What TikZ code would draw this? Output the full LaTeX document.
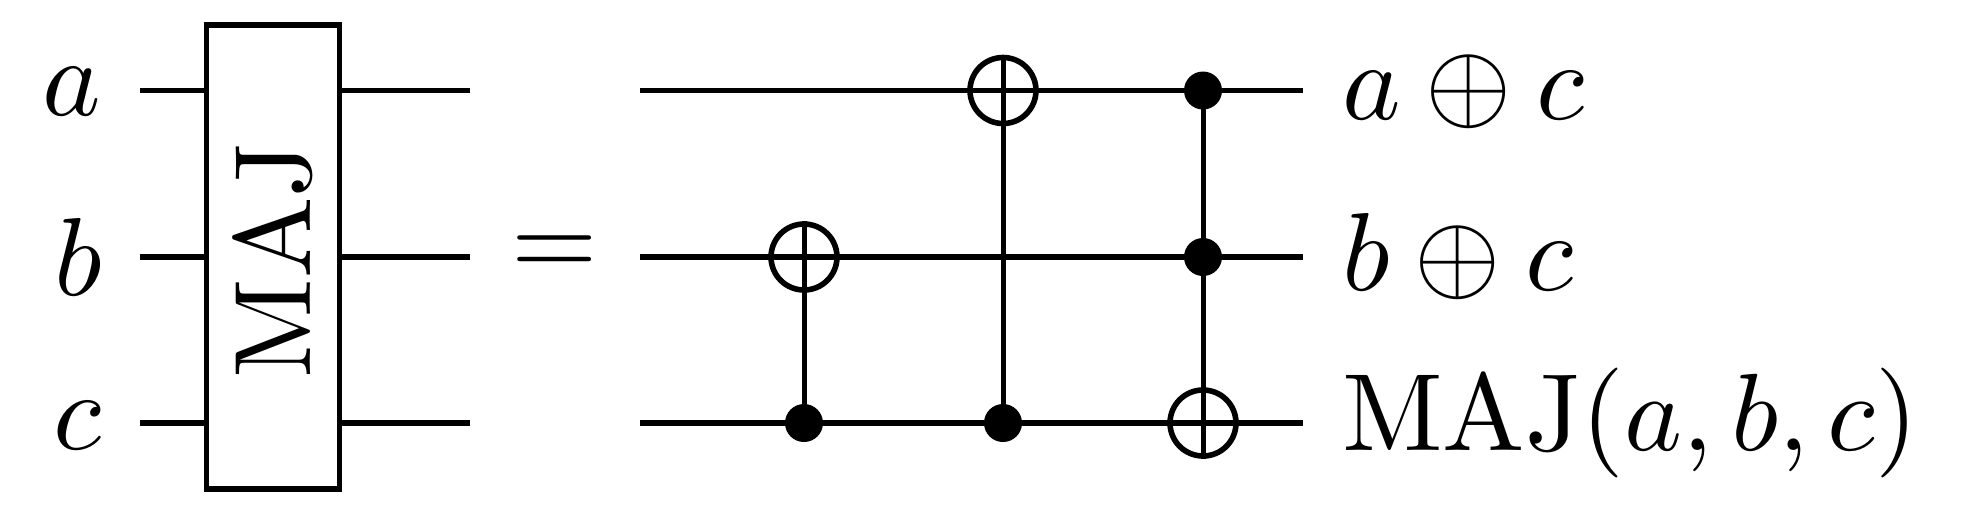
\documentclass[tikz,border=0pt]{standalone}
\usepackage{amsmath}
\usepackage{amssymb}
\tikzset{x=0.5pt,y=-0.5pt,
 wire/.style={line width=2.7pt},
 vwire/.style={line width=2.5pt},
 ctrl/.style={circle,fill=black,inner sep=0pt,minimum size=19pt},
 targ/.style={circle,draw=black,line width=2.8pt,fill=none,inner sep=0pt,minimum size=33pt},
 lab/.style={inner sep=0pt,scale=5.55},
 box/.style={draw=black,line width=2.7pt,fill=white,inner sep=0pt}}
\begin{document}
\begin{tikzpicture}
\useasboundingbox (0,0) rectangle (1964,521);
\coordinate (w1l) at (140,90.5); \coordinate (w2l) at (140,257); \coordinate (w3l) at (140,423);
\coordinate (w1m) at (470,90.5); \coordinate (w2m) at (470,257); \coordinate (w3m) at (470,423);
\coordinate (r1l) at (640,90.5); \coordinate (r2l) at (640,257); \coordinate (r3l) at (640,423);
\coordinate (r1r) at (1303,90.5); \coordinate (r2r) at (1303,257); \coordinate (r3r) at (1303,423);
\draw[wire] (w1l)--(w1m); \draw[wire] (w2l)--(w2m); \draw[wire] (w3l)--(w3m);
\draw[wire] (r1l)--(r1r); \draw[wire] (r2l)--(r2r); \draw[wire] (r3l)--(r3r);
\node[box,minimum width=66.5pt,minimum height=232pt] (maj) at (273,257) {};
\node[lab,rotate=90,scale=0.98] (majt) at (273,260) {MAJ};
\node[lab] (a) at (72,92) {$a$};
\node[lab] (b) at (78,257) {$b$};
\node[lab] (c) at (78,426) {$c$};
\node[lab] (eq) at (555,256) {$=$};
\node[targ] (t1) at (804,257) {};
\node[ctrl] (c1) at (804,423) {};
\node[targ] (t2) at (1003,90.5) {};
\node[ctrl] (c2) at (1003,423) {};
\node[ctrl] (c3a) at (1203,90.5) {};
\node[ctrl] (c3b) at (1203,257) {};
\node[targ] (t3) at (1203,423) {};
\draw[vwire] (t1.north)--(c1.center);
\draw[vwire] (t2.north)--(c2.center);
\draw[vwire] (c3a.center)--(t3.south);
\node[lab,anchor=west] (ra) at (1340,92) {$a\oplus c$};
\node[lab,anchor=west] (rb) at (1340,257) {$b\oplus c$};
\node[lab,anchor=west,scale=0.99] (rc) at (1340,423) {$\text{MAJ}(a,b,c)$};
\end{tikzpicture}
\end{document}
